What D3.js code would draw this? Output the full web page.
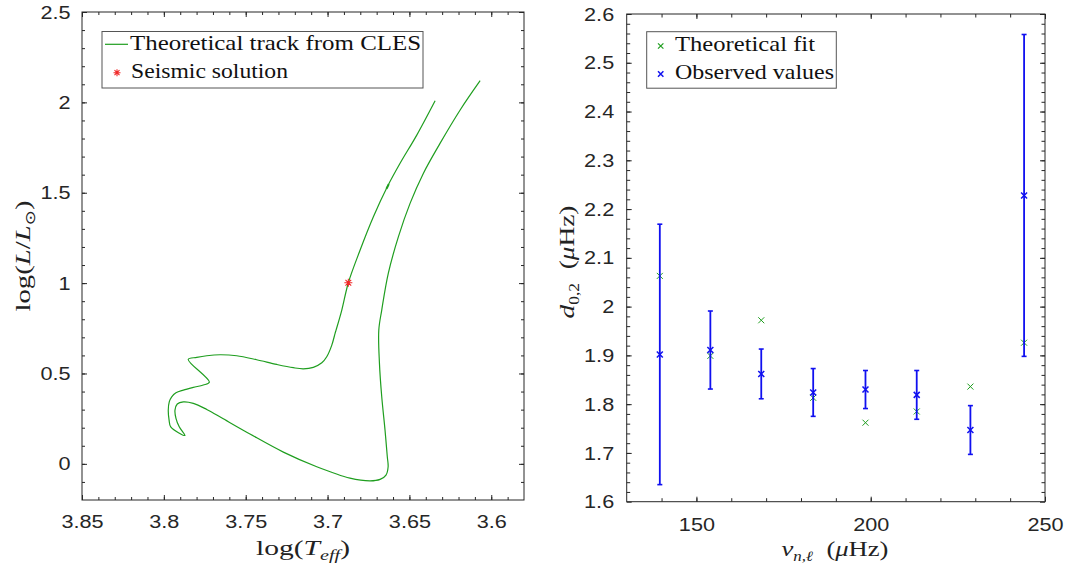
<!DOCTYPE html>
<html>
<head>
<meta charset="utf-8">
<script src="https://cdn.jsdelivr.net/npm/d3@7"></script>
<style>
  body { margin: 0; background: #fff; }
  svg { display: block; }
</style>
</head>
<body>
<div id="chart"></div>
<script>
// ---- left panel: HR diagram ----
const TRACK_LOGTEFF = [
  3.6068, 3.6190, 3.6313, 3.6415, 3.6496, 3.6567, 3.6629, 3.6669, 3.6687, 3.6683,
  3.6669, 3.6649, 3.6635, 3.6630, 3.6643, 3.6679, 3.6740, 3.6863, 3.7066, 3.7270,
  3.7474, 3.7637, 3.7738, 3.7820, 3.7881, 3.7918, 3.7932, 3.7926, 3.7906, 3.7871,
  3.7958, 3.7968, 3.7973, 3.7967, 3.7952, 3.7926, 3.7881, 3.7820, 3.7759, 3.7722,
  3.7851, 3.7799, 3.7738, 3.7657, 3.7555, 3.7433, 3.7310, 3.7209, 3.7148, 3.7087,
  3.7035, 3.7005, 3.6974, 3.6954, 3.6948, 3.6913, 3.6873, 3.6801, 3.6720, 3.6635,
  3.6557, 3.6455, 3.6343
];
const TRACK_LOGL = [
  2.120, 1.958, 1.773, 1.607, 1.441, 1.257, 1.054, 0.851, 0.740, 0.556,
  0.371, 0.187, 0.039, -0.016, -0.062, -0.086, -0.094, -0.079, -0.016, 0.065,
  0.165, 0.249, 0.301, 0.335, 0.343, 0.331, 0.297, 0.252, 0.205, 0.157,
  0.205, 0.242, 0.297, 0.343, 0.371, 0.393, 0.408, 0.423, 0.436, 0.452,
  0.578, 0.589, 0.598, 0.6035, 0.598, 0.576, 0.550, 0.532, 0.526, 0.534,
  0.559, 0.5925, 0.657, 0.722, 0.740, 0.851, 1.002, 1.183, 1.367, 1.533,
  1.663, 1.819, 2.009
];
// the RGB bump, a short back-and-forth on the giant branch
const BUMP_LOGTEFF = [3.6640, 3.6626];
const BUMP_LOGL = [1.522, 1.548];
const SEISMIC_LOGTEFF = [3.6873];
const SEISMIC_LOGL = [1.002];
const HR_X_TICKS = [3.85, 3.8, 3.75, 3.7, 3.65, 3.6];
const HR_Y_TICKS = [0, 0.5, 1, 1.5, 2, 2.5];

// ---- right panel: small separations ----
const NU = [139.5, 154.0, 168.6, 183.5, 198.5, 213.2, 228.6, 244.0];
const D02_FIT = [2.063, 1.899, 1.972, 1.813, 1.762, 1.785, 1.836, 1.926];
const D02_OBS = [1.902, 1.911, 1.862, 1.824, 1.830, 1.819, 1.747, 2.228];
const D02_ERR = [0.267, 0.080, 0.051, 0.049, 0.039, 0.050, 0.050, 0.330];
const NU_TICKS = [150, 200, 250];
const D02_TICKS = [1.6, 1.7, 1.8, 1.9, 2, 2.1, 2.2, 2.3, 2.4, 2.5, 2.6];

const GREEN = "#1f9e1f";
const BLUE = "#1010f0";
const RED = "#f02a2a";
const INK = "#262626";
const SANS = "'Liberation Sans', Arial, Helvetica, sans-serif";
const SERIF = "'Liberation Serif', 'Times New Roman', serif";
const SX = 1.14; // the figure is a bit wider than tall

const svg = d3.select("#chart").append("svg")
  .attr("width", 1065)
  .attr("height", 570);
svg.append("rect").attr("width", 1065).attr("height", 570).attr("fill", "#fff");

const fmt = d => String(+d.toFixed(2));
const range = (a, b, s) => d3.range(Math.round(a / s), Math.round(b / s) + 1).map(k => +(k * s).toFixed(4));

// box with inward ticks on all four sides, labels bottom/left
function frame(x, y, o) {
  const [xl, xr] = x.range();
  const [yb, yt] = y.range();
  const g = svg.append("g").attr("color", INK);

  const mk = (axis, tr, vals, size, labels, pad) => {
    const a = g.append("g").attr("transform", tr)
      .call(axis.tickValues(vals).tickSize(-size).tickSizeOuter(0)
        .tickPadding(pad || 0).tickFormat(labels ? fmt : ""));
    a.attr("font-family", SANS).attr("font-size", 19);
    a.select(".domain").remove();
    a.selectAll("line").attr("stroke-width", 1);
    a.selectAll("text").attr("fill", INK).attr("transform", `scale(${SX},1)`);
    return a;
  };
  // minor
  mk(d3.axisBottom(x), `translate(0,${yb})`, o.xMinor, o.minorLen);
  mk(d3.axisTop(x), `translate(0,${yt})`, o.xMinor, o.minorLen);
  mk(d3.axisLeft(y), `translate(${xl},0)`, o.yMinor, o.minorLen);
  mk(d3.axisRight(y), `translate(${xr},0)`, o.yMinor, o.minorLen);
  // major
  mk(d3.axisBottom(x), `translate(0,${yb})`, o.xMajor, 5, true, o.xPad);
  mk(d3.axisTop(x), `translate(0,${yt})`, o.xMajor, 5);
  mk(d3.axisLeft(y), `translate(${xl},0)`, o.yMajor, 5, true, o.yPad);
  mk(d3.axisRight(y), `translate(${xr},0)`, o.yMajor, 5);

  g.append("rect")
    .attr("x", xl).attr("y", yt)
    .attr("width", xr - xl).attr("height", yb - yt)
    .attr("fill", "none").attr("stroke", INK).attr("stroke-width", 1);
}

function cross(sel, cx, cy, r, color, w) {
  sel.append("path")
    .attr("d", `M${cx - r},${cy - r}L${cx + r},${cy + r}M${cx - r},${cy + r}L${cx + r},${cy - r}`)
    .attr("stroke", color).attr("stroke-width", w).attr("fill", "none");
}
function star(sel, cx, cy, r, color) {
  const d = r * 0.72;
  sel.append("path")
    .attr("d", `M${cx - r},${cy}L${cx + r},${cy}M${cx},${cy - r}L${cx},${cy + r}` +
      `M${cx - d},${cy - d}L${cx + d},${cy + d}M${cx - d},${cy + d}L${cx + d},${cy - d}`)
    .attr("stroke", color).attr("stroke-width", 1.1).attr("fill", "none");
}

// ================= left panel =================
const xL = d3.scaleLinear().domain([3.85, 3.58]).range([82, 524]);
const yL = d3.scaleLinear().domain([-0.2, 2.5]).range([500, 12]);

frame(xL, yL, {
  xMajor: HR_X_TICKS, xMinor: range(3.59, 3.85, 0.01),
  yMajor: HR_Y_TICKS, yMinor: range(-0.1, 2.5, 0.1),
  minorLen: 3, xPad: 14.5, yPad: 10
});

const track = TRACK_LOGTEFF.map((t, i) => [t, TRACK_LOGL[i]]);
const line = d3.line()
  .x(d => xL(d[0]))
  .y(d => yL(d[1]))
  .curve(d3.curveCatmullRom.alpha(0.5));

svg.append("path")
  .datum(track)
  .attr("d", line)
  .attr("fill", "none")
  .attr("stroke", GREEN)
  .attr("stroke-width", 1.2);

svg.append("path")
  .datum(BUMP_LOGTEFF.map((t, i) => [t, BUMP_LOGL[i]]))
  .attr("d", d3.line().x(d => xL(d[0])).y(d => yL(d[1])))
  .attr("fill", "none")
  .attr("stroke", GREEN)
  .attr("stroke-width", 2);

const marksL = svg.append("g");
SEISMIC_LOGTEFF.forEach((t, i) => star(marksL, xL(t), yL(SEISMIC_LOGL[i]), 4, RED));

// legend
const legL = svg.append("g");
legL.append("rect").attr("x", 102).attr("y", 31.5).attr("width", 321).attr("height", 56.5)
  .attr("fill", "#fff").attr("stroke", "#555").attr("stroke-width", 1);
legL.append("line").attr("x1", 105).attr("x2", 128).attr("y1", 44.3).attr("y2", 44.3)
  .attr("stroke", GREEN).attr("stroke-width", 1.2);
star(legL, 117, 72.7, 3.5, RED);
legL.append("text").attr("x", 130).attr("y", 50).text("Theoretical track from CLES")
  .attr("font-family", SERIF).attr("font-size", 21).attr("fill", "#111")
  .attr("textLength", 291).attr("lengthAdjust", "spacingAndGlyphs");
legL.append("text").attr("x", 131).attr("y", 78.3).text("Seismic solution")
  .attr("font-family", SERIF).attr("font-size", 21).attr("fill", "#111")
  .attr("textLength", 157).attr("lengthAdjust", "spacingAndGlyphs");

// axis titles
const tx1 = svg.append("text").attr("x", 303).attr("y", 555)
  .attr("text-anchor", "middle").attr("font-family", SERIF).attr("font-size", 22)
  .attr("fill", "#222").attr("textLength", 94).attr("lengthAdjust", "spacingAndGlyphs");
tx1.append("tspan").text("log(");
tx1.append("tspan").attr("font-style", "italic").text("T");
tx1.append("tspan").attr("font-style", "italic").attr("font-size", 15).attr("dy", 5).text("eff");
tx1.append("tspan").attr("dy", -5).text(")");

const ty1 = svg.append("text").attr("transform", "translate(29.5,256) rotate(-90)")
  .attr("text-anchor", "middle").attr("font-family", SERIF).attr("font-size", 22)
  .attr("fill", "#222").attr("textLength", 111).attr("lengthAdjust", "spacingAndGlyphs");
ty1.append("tspan").text("log(");
ty1.append("tspan").attr("font-style", "italic").text("L");
ty1.append("tspan").text("/");
ty1.append("tspan").attr("font-style", "italic").text("L");
ty1.append("tspan").attr("font-size", 14).attr("dy", 5).attr("font-family", "'DejaVu Sans'").text("\u2299");
ty1.append("tspan").attr("dy", -5).text(")");

// ================= right panel =================
const xR = d3.scaleLinear().domain([130, 250]).range([626.7, 1045]);
const yR = d3.scaleLinear().domain([1.6, 2.6]).range([501.7, 14]);

frame(xR, yR, {
  xMajor: NU_TICKS, xMinor: range(140, 240, 10),
  yMajor: D02_TICKS, yMinor: range(1.62, 2.58, 0.02),
  minorLen: 3.5, xPad: 15.5, yPad: 11
});

const marksR = svg.append("g");
NU.forEach((n, i) => cross(marksR, xR(n), yR(D02_FIT[i]), 3, GREEN, 1));

const eb = svg.append("g").attr("stroke", BLUE).attr("fill", "none");
NU.forEach((n, i) => {
  const cx = xR(n);
  const lo = yR(D02_OBS[i] - D02_ERR[i]);
  const hi = yR(D02_OBS[i] + D02_ERR[i]);
  eb.append("line").attr("x1", cx).attr("x2", cx).attr("y1", lo).attr("y2", hi).attr("stroke-width", 1.8);
  eb.append("line").attr("x1", cx - 2.5).attr("x2", cx + 2.5).attr("y1", lo).attr("y2", lo).attr("stroke-width", 1.6);
  eb.append("line").attr("x1", cx - 2.5).attr("x2", cx + 2.5).attr("y1", hi).attr("y2", hi).attr("stroke-width", 1.6);
  cross(eb, cx, yR(D02_OBS[i]), 3, BLUE, 1.5);
});

// legend
const legR = svg.append("g");
legR.append("rect").attr("x", 646.7).attr("y", 31.7).attr("width", 189.6).attr("height", 56.5)
  .attr("fill", "#fff").attr("stroke", "#555").attr("stroke-width", 1);
cross(legR, 660.7, 46, 2.7, GREEN, 1.2);
cross(legR, 660.7, 74, 2.7, BLUE, 1.5);
legR.append("text").attr("x", 675).attr("y", 50.5).text("Theoretical fit")
  .attr("font-family", SERIF).attr("font-size", 21).attr("fill", "#111")
  .attr("textLength", 140).attr("lengthAdjust", "spacingAndGlyphs");
legR.append("text").attr("x", 675).attr("y", 78.7).text("Observed values")
  .attr("font-family", SERIF).attr("font-size", 21).attr("fill", "#111")
  .attr("textLength", 159).attr("lengthAdjust", "spacingAndGlyphs");

// axis titles
const tx2 = svg.append("text").attr("x", 835).attr("y", 556)
  .attr("text-anchor", "middle").attr("font-family", SERIF).attr("font-size", 22)
  .attr("fill", "#222").attr("textLength", 107).attr("lengthAdjust", "spacingAndGlyphs");
tx2.append("tspan").attr("font-style", "italic").text("\u03BD");
tx2.append("tspan").attr("font-style", "italic").attr("font-size", 14).attr("dy", 5).text("n,\u2113");
tx2.append("tspan").attr("dy", -5).text("\u2002(");
tx2.append("tspan").attr("font-style", "italic").text("\u03BC");
tx2.append("tspan").text("Hz)");

const ty2 = svg.append("text").attr("transform", "translate(574,262) rotate(-90)")
  .attr("text-anchor", "middle").attr("font-family", SERIF).attr("font-size", 22)
  .attr("fill", "#222").attr("textLength", 113).attr("lengthAdjust", "spacingAndGlyphs");
ty2.append("tspan").attr("font-style", "italic").text("d");
ty2.append("tspan").attr("font-size", 14).attr("dy", 5).text("0,2");
ty2.append("tspan").attr("dy", -5).text("\u2002(");
ty2.append("tspan").attr("font-style", "italic").text("\u03BC");
ty2.append("tspan").text("Hz)");
</script>
</body>
</html>
